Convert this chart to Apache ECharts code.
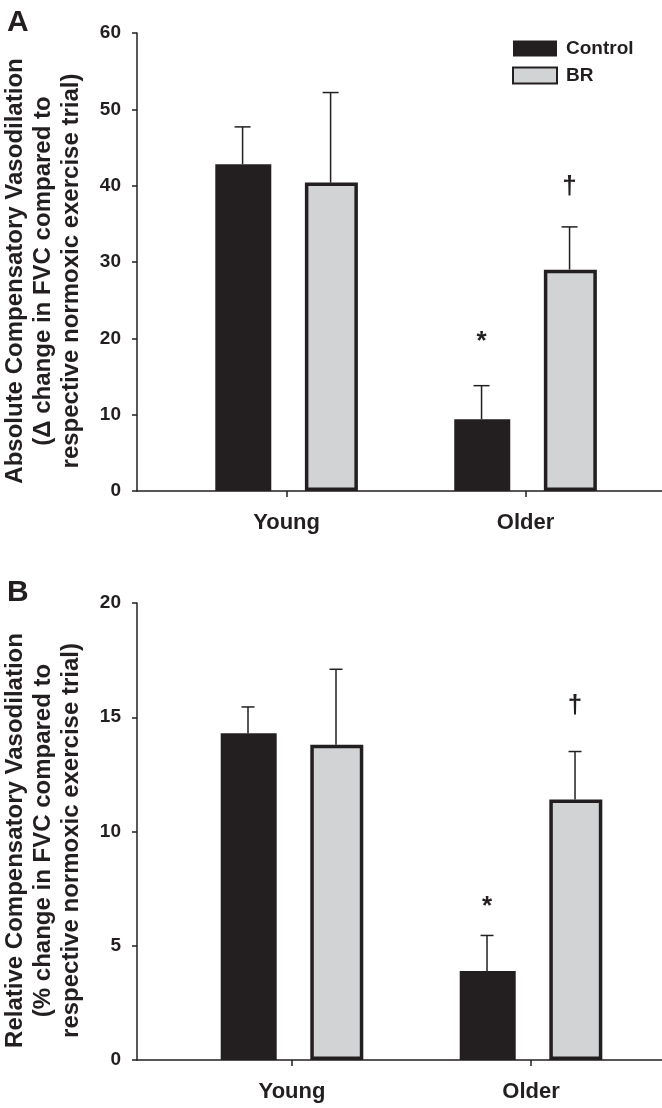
<!DOCTYPE html>
<html>
<head>
<meta charset="utf-8">
<script src="https://cdn.jsdelivr.net/npm/echarts@6/dist/echarts.min.js"></script>
<style>
html,body{margin:0;padding:0;background:#fff;}
#chart{width:662px;height:1108px;}
</style>
</head>
<body>
<div id="chart"></div>
<script>
// ---------- data ----------
const groups = ['Young', 'Older'];
const seriesNames = ['Control', 'BR'];

// Panel A: absolute compensatory vasodilation
const controlA = [42.8, 9.4];
const controlAErr = [4.9, 4.4];
const brA = [40.4, 29.0];
const brAErr = [11.8, 5.6];

// Panel B: relative compensatory vasodilation
const controlB = [14.3, 3.9];
const controlBErr = [1.15, 1.55];
const brB = [13.8, 11.4];
const brBErr = [3.3, 2.1];

// significance markers: [groupIndex, series ('Control'|'BR'), symbol, y position]
const marksA = [[1, 'Control', '*', 19.5], [1, 'BR', '\u2020', 39.8]];
const marksB = [[1, 'Control', '*', 6.7], [1, 'BR', '\u2020', 15.5]];

const yTicksA = {min: 0, max: 60, interval: 10};
const yTicksB = {min: 0, max: 20, interval: 5};

const titleA = ['Absolute Compensatory Vasodilation', '(\u0394 change in FVC compared to', 'respective normoxic exercise trial)'];
const titleB = ['Relative Compensatory Vasodilation', '(% change in FVC compared to', 'respective normoxic exercise trial)'];

// ---------- style ----------
const INK = '#231f20';
const GREY = '#d1d3d4';
const FONT = '"Liberation Sans", Arial, Helvetica, sans-serif';
const DODGE = 44;

const chart = echarts.init(document.getElementById('chart'), null, {renderer: 'canvas'});

const xy = arr => arr.map((v, i) => [i + 1, v]);
const errData = (m, e) => m.map((v, i) => [i + 1, v, e[i]]);

function errRender(side, capW) {
  return function (params, api) {
    const x = api.value(0), mean = api.value(1), err = api.value(2);
    const p0 = api.coord([x, mean]);
    const p1 = api.coord([x, mean + err]);
    const cx = p0[0] + side * DODGE;
    const st = {stroke: INK, lineWidth: 1.5};
    return {type: 'group', children: [
      {type: 'line', shape: {x1: cx, y1: p0[1], x2: cx, y2: p1[1]}, style: st},
      {type: 'line', shape: {x1: cx - capW / 2, y1: p1[1], x2: cx + capW / 2, y2: p1[1]}, style: st}
    ]};
  };
}

function markRender(marks) {
  return function (params, api) {
    const m = marks[params.dataIndex];
    const p = api.coord([m[0] + 1, m[3]]);
    const side = m[1] === 'Control' ? -1 : 1;
    return {type: 'text', style: {
      text: m[2], x: p[0] + side * DODGE, y: p[1],
      align: 'center', verticalAlign: 'middle',
      font: 'bold 26px ' + FONT, fill: INK
    }};
  };
}

function yAxis(gi, ticks, lines) {
  return {
    type: 'value', gridIndex: gi, min: ticks.min, max: ticks.max, interval: ticks.interval,
    axisLine: {show: true, lineStyle: {color: INK, width: 1.5}},
    axisTick: {show: true, inside: false, length: 5, lineStyle: {color: INK, width: 1.5}},
    splitLine: {show: false},
    axisLabel: {margin: 16, color: INK, fontSize: 19, fontWeight: 'bold', fontFamily: FONT},
    name: lines.join('\n'), nameLocation: 'middle', nameRotate: 90, nameGap: 52,
    nameTextStyle: {color: INK, fontSize: 24, fontWeight: 'bold', fontFamily: FONT, lineHeight: 28,
      align: 'center', padding: [0, 18, 0, 0]}
  };
}

function xAxis(gi, min, max) {
  return {
    type: 'value', gridIndex: gi, min: min, max: max,
    axisLine: {show: true, onZero: false, lineStyle: {color: INK, width: 1.5}},
    axisTick: {show: true, length: 6, customValues: [1, 2], lineStyle: {color: INK, width: 1.5}},
    splitLine: {show: false},
    axisLabel: {margin: 21, customValues: [1, 2], formatter: v => groups[Math.round(v) - 1] || '',
      color: INK, fontSize: 22, fontWeight: 'bold', fontFamily: FONT}
  };
}

function barSeries(gi, name, vals, isBR) {
  return {
    type: 'bar', name: name, xAxisIndex: gi, yAxisIndex: gi,
    data: xy(vals), barWidth: isBR ? 53 : 56, barGap: '60%',
    itemStyle: isBR ? {color: GREY, borderColor: INK, borderWidth: 3.5} : {color: INK},
    emphasis: {disabled: true}, z: 2
  };
}

const option = {
  animation: false,
  backgroundColor: '#fff',
  textStyle: {fontFamily: FONT},
  title: [
    {text: 'A', left: 2, top: 3, textStyle: {fontSize: 30, fontWeight: 'bold', color: INK, fontFamily: FONT}},
    {text: 'B', left: 2, top: 573, textStyle: {fontSize: 30, fontWeight: 'bold', color: INK, fontFamily: FONT}}
  ],
  legend: {
    orient: 'vertical', left: 512, top: 39, padding: 0, itemWidth: 44, itemHeight: 16, itemGap: 8,
    icon: 'rect',
    data: seriesNames,
    textStyle: {color: INK, fontSize: 19, fontWeight: 'bold', fontFamily: FONT, lineHeight: 16, padding: [0, 0, 0, 4]}
  },
  grid: [
    {left: 137, right: 0, top: 33, bottom: 617, containLabel: false, outerBoundsMode: 'none'},
    {left: 137, right: 0, top: 603, bottom: 48, containLabel: false, outerBoundsMode: 'none'}
  ],
  xAxis: [xAxis(0, 0.374, 2.571), xAxis(1, 0.3515, 2.548)],
  yAxis: [yAxis(0, yTicksA, titleA), yAxis(1, yTicksB, titleB)],
  series: [
    barSeries(0, 'Control', controlA, false),
    barSeries(0, 'BR', brA, true),
    barSeries(1, 'Control', controlB, false),
    barSeries(1, 'BR', brB, true),
    {type: 'custom', xAxisIndex: 0, yAxisIndex: 0, renderItem: errRender(-1, 16), data: errData(controlA, controlAErr), encode: {x: 0, y: 1}, z: 1, silent: true},
    {type: 'custom', xAxisIndex: 0, yAxisIndex: 0, renderItem: errRender(1, 16), data: errData(brA, brAErr), encode: {x: 0, y: 1}, z: 1, silent: true},
    {type: 'custom', xAxisIndex: 1, yAxisIndex: 1, renderItem: errRender(-1, 13), data: errData(controlB, controlBErr), encode: {x: 0, y: 1}, z: 1, silent: true},
    {type: 'custom', xAxisIndex: 1, yAxisIndex: 1, renderItem: errRender(1, 13), data: errData(brB, brBErr), encode: {x: 0, y: 1}, z: 1, silent: true},
    {type: 'custom', xAxisIndex: 0, yAxisIndex: 0, renderItem: markRender(marksA), data: marksA.map(m => [m[0] + 1, m[3]]), encode: {x: 0, y: 1}, z: 3, silent: true},
    {type: 'custom', xAxisIndex: 1, yAxisIndex: 1, renderItem: markRender(marksB), data: marksB.map(m => [m[0] + 1, m[3]]), encode: {x: 0, y: 1}, z: 3, silent: true}
  ]
};
chart.setOption(option);
</script>
</body>
</html>
